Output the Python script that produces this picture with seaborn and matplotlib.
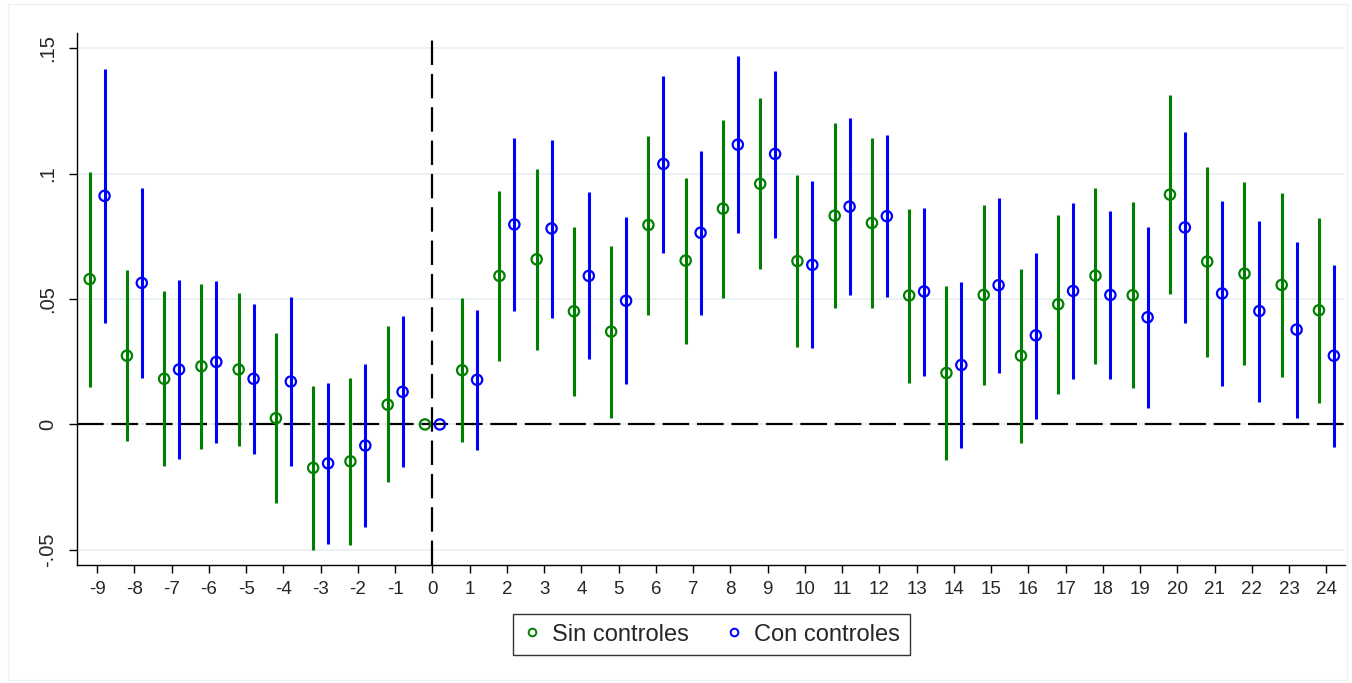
import numpy as np
import pandas as pd
import matplotlib
matplotlib.use("Agg")
import matplotlib.pyplot as plt
from matplotlib.lines import Line2D
import seaborn as sns

# Event-time periods
periods = list(range(-9, 25))

# Estimates without controls
coef_sin = [0.0579, 0.0274, 0.0182, 0.0232, 0.0219, 0.0025, -0.0173, -0.0147, 0.0079, 0.0,
            0.0216, 0.0592, 0.0658, 0.0451, 0.0370, 0.0795, 0.0653, 0.0860, 0.0959, 0.0651,
            0.0832, 0.0803, 0.0514, 0.0205, 0.0516, 0.0274, 0.0479, 0.0593, 0.0515, 0.0916,
            0.0649, 0.0601, 0.0556, 0.0455]
lo_sin = [0.0151, -0.0066, -0.0167, -0.0097, -0.0084, -0.0315, -0.0500, -0.0482, -0.0230, 0.0,
          -0.0071, 0.0252, 0.0297, 0.0112, 0.0027, 0.0438, 0.0322, 0.0504, 0.0619, 0.0307,
          0.0463, 0.0463, 0.0166, -0.0141, 0.0158, -0.0073, 0.0123, 0.0242, 0.0145, 0.0519,
          0.0270, 0.0237, 0.0190, 0.0084]
hi_sin = [0.1007, 0.0614, 0.0532, 0.0558, 0.0523, 0.0363, 0.0155, 0.0185, 0.0392, 0.0,
          0.0503, 0.0932, 0.1018, 0.0788, 0.0712, 0.1149, 0.0984, 0.1215, 0.1300, 0.0995,
          0.1201, 0.1142, 0.0860, 0.0551, 0.0875, 0.0621, 0.0836, 0.0942, 0.0885, 0.1314,
          0.1027, 0.0968, 0.0921, 0.0823]

# Estimates with controls
coef_con = [0.0911, 0.0564, 0.0219, 0.0249, 0.0182, 0.0171, -0.0155, -0.0084, 0.0130, 0.0,
            0.0178, 0.0797, 0.0781, 0.0592, 0.0493, 0.1038, 0.0764, 0.1115, 0.1078, 0.0636,
            0.0868, 0.0830, 0.0530, 0.0237, 0.0555, 0.0355, 0.0532, 0.0516, 0.0427, 0.0785,
            0.0522, 0.0452, 0.0378, 0.0274]
lo_con = [0.0404, 0.0185, -0.0137, -0.0074, -0.0116, -0.0167, -0.0475, -0.0408, -0.0171, 0.0,
          -0.0100, 0.0452, 0.0425, 0.0260, 0.0162, 0.0685, 0.0438, 0.0764, 0.0745, 0.0303,
          0.0514, 0.0507, 0.0195, -0.0095, 0.0207, 0.0021, 0.0182, 0.0182, 0.0067, 0.0404,
          0.0152, 0.0090, 0.0025, -0.0089]
hi_con = [0.1418, 0.0941, 0.0575, 0.0570, 0.0479, 0.0508, 0.0164, 0.0240, 0.0432, 0.0,
          0.0455, 0.1142, 0.1134, 0.0925, 0.0825, 0.1390, 0.1090, 0.1467, 0.1408, 0.0970,
          0.1222, 0.1155, 0.0864, 0.0566, 0.0903, 0.0685, 0.0881, 0.0852, 0.0785, 0.1167,
          0.0890, 0.0812, 0.0729, 0.0634]

series_names = ["Sin controles", "Con controles"]
series_colors = ["#008000", "#0000FF"]
y_ticks = [-0.05, 0, 0.05, 0.1, 0.15]
y_ticklabels = ["-.05", "0", ".05", ".1", ".15"]

offset = 0.2
frames = []
for name, coef, lo, hi, shift in [
    (series_names[0], coef_sin, lo_sin, hi_sin, -offset),
    (series_names[1], coef_con, lo_con, hi_con, offset),
]:
    frames.append(pd.DataFrame({
        "period": periods,
        "x": np.array(periods, dtype=float) + shift,
        "coef": coef, "lo": lo, "hi": hi, "model": name,
    }))
df = pd.concat(frames, ignore_index=True)

sns.set_style("white")
plt.rcParams["font.family"] = ["Liberation Sans", "DejaVu Sans"]

fig = plt.figure(figsize=(13.52, 6.83), dpi=100)
ax = fig.add_axes([0.05695, 0.1728, 0.9379, 0.7789])

# Reference lines
ax.axhline(0, color="black", lw=1.6, dashes=(12, 3.5), zorder=1)
ax.axvline(0, color="black", lw=1.6, dashes=(11, 4), zorder=1)

for name, color in zip(series_names, series_colors):
    sub = df[df["model"] == name]
    ci = sub[sub["hi"] != sub["lo"]]
    ax.vlines(ci["x"], ci["lo"], ci["hi"], color=color, lw=2.2, zorder=2)
    sns.scatterplot(data=sub, x="x", y="coef", color=color, marker="o",
                    s=55, linewidth=1.6, ax=ax, zorder=3, legend=False)
    coll = ax.collections[-1]
    coll.set_facecolor("none")
    coll.set_edgecolor(color)

ax.set_xlim(-9.54, 24.5)
ax.set_ylim(-0.056, 0.156)
ax.set_xticks(periods)
ax.set_xticklabels([str(p) for p in periods], fontsize=13.5)
ax.set_yticks(y_ticks)
ax.set_yticklabels(y_ticklabels, fontsize=14.5, rotation=90, va="center")
ax.tick_params(axis="x", direction="out", length=5.5, width=1, color="black",
               bottom=True, pad=6)
ax.tick_params(axis="y", direction="out", length=6, width=1, color="black",
               left=True, pad=8.5)
ax.set_xlabel("")
ax.set_ylabel("")
ax.yaxis.grid(True, color="#EAF2F3", lw=1.4, zorder=0)
ax.xaxis.grid(False)
ax.set_axisbelow(True)
for side in ["top", "right"]:
    ax.spines[side].set_visible(False)
for side in ["left", "bottom"]:
    ax.spines[side].set_color("black")
    ax.spines[side].set_linewidth(1.0)

handles = [Line2D([0], [0], marker="o", linestyle="none", markerfacecolor="none",
                  markeredgecolor=c, markeredgewidth=1.4, markersize=5.5)
           for c in series_colors]
leg = fig.legend(handles, series_names, loc="center", bbox_to_anchor=(0.526, 0.071),
                 ncol=2, frameon=True, fancybox=False, fontsize=17, handletextpad=0.45,
                 columnspacing=1.5, borderpad=0.42, handlelength=0.8)
leg.get_frame().set_edgecolor("black")
leg.get_frame().set_linewidth(1.0)

# Faint outer region border
fig.patches.append(plt.Rectangle((0.006, 0.004), 0.99, 0.99, transform=fig.transFigure,
                                 fill=False, edgecolor="#EEF2F3", lw=1.0))

fig.savefig("out.png", dpi=100, facecolor="white")
